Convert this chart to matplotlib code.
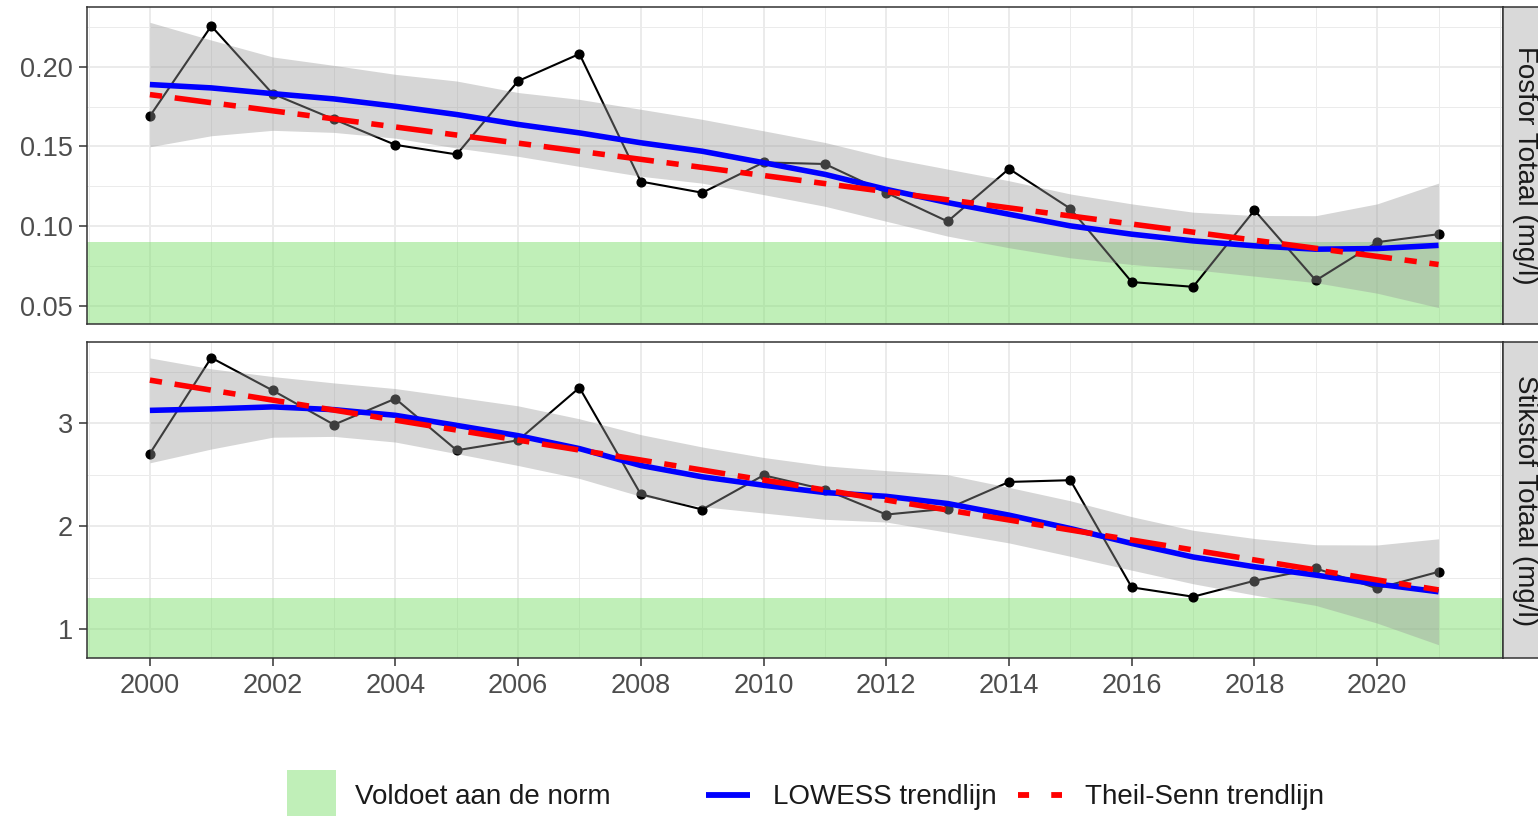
import matplotlib
matplotlib.use("Agg")
import matplotlib.pyplot as plt
from matplotlib.patches import Rectangle
from matplotlib.lines import Line2D

plt.rcParams["font.family"] = ["Liberation Sans", "DejaVu Sans"]

# ---- data -------------------------------------------------------------
years = list(range(2000, 2022))
x_ticks = list(range(2000, 2021, 2))
x_minor = [1999, 2001, 2003, 2005, 2007, 2009, 2011, 2013, 2015, 2017, 2019, 2021, 2022]

# Total phosphorus (mg/l)
fosfor = [0.169, 0.2255, 0.183, 0.167, 0.151, 0.145, 0.191, 0.208, 0.128, 0.121, 0.140,
          0.139, 0.121, 0.103, 0.136, 0.111, 0.065, 0.062, 0.110, 0.066, 0.090, 0.095]
fosfor_lowess = [0.1888, 0.1867, 0.1831, 0.1798, 0.1752, 0.1700, 0.1638, 0.1585, 0.1523,
                 0.1470, 0.1398, 0.1325, 0.1231, 0.1148, 0.1075, 0.1002, 0.0950, 0.0908,
                 0.0877, 0.0856, 0.0860, 0.0880]
fosfor_lo = [0.1498, 0.1567, 0.1601, 0.1588, 0.1552, 0.1490, 0.1438, 0.1375, 0.1313, 0.1270,
             0.1198, 0.1125, 0.1031, 0.0938, 0.0865, 0.0802, 0.0760, 0.0728, 0.0687, 0.0646,
             0.0580, 0.0490]
fosfor_hi = [0.2278, 0.2167, 0.2061, 0.2008, 0.1952, 0.1910, 0.1838, 0.1795, 0.1733, 0.1670,
             0.1598, 0.1525, 0.1431, 0.1358, 0.1285, 0.1202, 0.1140, 0.1088, 0.1067, 0.1066,
             0.1140, 0.1270]
fosfor_theil_sen = [0.1825, 0.0760]   # fitted values in 2000 and 2021
fosfor_norm = 0.09
fosfor_ticks = [0.05, 0.10, 0.15, 0.20]
fosfor_minor = [0.075, 0.125, 0.175, 0.225]
fosfor_ylim = (0.0387, 0.2376)

# Total nitrogen (mg/l)
stikstof = [2.706, 3.638, 3.320, 2.987, 3.240, 2.738, 2.835, 3.347, 2.310, 2.162, 2.495,
            2.356, 2.113, 2.170, 2.430, 2.447, 1.405, 1.314, 1.469, 1.589, 1.395, 1.556]
stikstof_lowess = [3.126, 3.140, 3.160, 3.133, 3.078, 2.980, 2.880, 2.754, 2.590, 2.480,
                   2.398, 2.327, 2.290, 2.220, 2.107, 1.977, 1.832, 1.700, 1.605, 1.524,
                   1.437, 1.362]
stikstof_lo = [2.616, 2.750, 2.865, 2.873, 2.818, 2.705, 2.590, 2.464, 2.290, 2.190, 2.128,
               2.067, 2.040, 1.940, 1.837, 1.707, 1.572, 1.440, 1.330, 1.229, 1.057, 0.847]
stikstof_hi = [3.636, 3.530, 3.455, 3.393, 3.338, 3.255, 3.170, 3.044, 2.890, 2.770, 2.668,
               2.587, 2.540, 2.500, 2.377, 2.247, 2.092, 1.960, 1.880, 1.819, 1.817, 1.877]
stikstof_theil_sen = [3.42, 1.38]
stikstof_norm = 1.3
stikstof_ticks = [1, 2, 3]
stikstof_minor = [1.5, 2.5, 3.5]
stikstof_ylim = (0.715, 3.788)

panel_titles = ["Fosfor Totaal (mg/l)", "Stikstof Totaal (mg/l)"]
legend_labels = ["Voldoet aan de norm", "LOWESS trendlijn", "Theil-Senn trendlijn"]

# ---- style ------------------------------------------------------------
W, H = 1538, 816
GREEN = "#83e173"
GRID = "#EBEBEB"
DARK = "#333333"
TICKTXT = "#4D4D4D"
FS = 19.5
TS_DASH = (0, (2.2, 2.3, 6.6, 2.3))
XLIM = (1998.98, 2022.05)

fig = plt.figure(figsize=(W / 100, H / 100), dpi=100)


def fx(px):
    return px / W


def fy(px):
    return 1 - px / H


panels = [
    dict(vals=fosfor, low=fosfor_lowess, lo=fosfor_lo, hi=fosfor_hi, ts=fosfor_theil_sen,
         norm=fosfor_norm, ticks=fosfor_ticks, minor=fosfor_minor, ylim=fosfor_ylim,
         fmt="{:.2f}", top=6.7, bottom=324.0),
    dict(vals=stikstof, low=stikstof_lowess, lo=stikstof_lo, hi=stikstof_hi, ts=stikstof_theil_sen,
         norm=stikstof_norm, ticks=stikstof_ticks, minor=stikstof_minor, ylim=stikstof_ylim,
         fmt="{:d}", top=342.3, bottom=658.3),
]

left_px, right_px = 87.3, 1503.0

for i, p in enumerate(panels):
    ax = fig.add_axes([fx(left_px), fy(p["bottom"]), fx(right_px - left_px),
                       (p["bottom"] - p["top"]) / H])
    ax.set_xlim(*XLIM)
    ax.set_ylim(*p["ylim"])

    # grid (theme_bw look)
    ax.set_xticks(x_ticks)
    ax.set_xticks(x_minor, minor=True)
    ax.set_yticks(p["ticks"])
    ax.set_yticks(p["minor"], minor=True)
    ax.grid(which="major", color=GRID, lw=1.4, zorder=0)
    ax.grid(which="minor", color=GRID, lw=0.7, zorder=0)
    ax.set_axisbelow(True)

    # area that meets the standard
    ax.axhspan(p["ylim"][0] - 1, p["norm"], color=GREEN, alpha=0.5, lw=0, zorder=1)

    # measurements
    ax.plot(years, p["vals"], color="black", lw=1.5, zorder=2)
    ax.plot(years, p["vals"], "o", color="black", ms=6.3, zorder=2)

    # LOWESS with confidence band
    ax.fill_between(years, p["lo"], p["hi"], color="#999999", alpha=0.4, lw=0, zorder=3)
    ax.plot(years, p["low"], color="#0000FF", lw=4.0, solid_capstyle="butt", zorder=4)

    # Theil-Sen trend
    ax.plot([years[0], years[-1]], p["ts"], color="#FF0000", lw=4.0, ls=TS_DASH,
            dash_capstyle="butt", zorder=5)

    for s in ax.spines.values():
        s.set_color(DARK)
        s.set_linewidth(1.1)
        s.set_zorder(6)

    ax.set_yticklabels([p["fmt"].format(t) for t in p["ticks"]])
    ax.tick_params(which="major", length=6, width=1.1, color=DARK, labelcolor=TICKTXT,
                   labelsize=FS, pad=4.5)
    ax.tick_params(which="minor", length=0)
    if i == 0:
        ax.tick_params(axis="x", which="both", length=0, labelbottom=False)
    else:
        ax.set_xticklabels([str(t) for t in x_ticks])

    # facet strip on the right
    sax = fig.add_axes([fx(right_px), fy(p["bottom"]), fx(45), (p["bottom"] - p["top"]) / H])
    sax.set_xticks([])
    sax.set_yticks([])
    sax.set_facecolor("#D9D9D9")
    for s in sax.spines.values():
        s.set_color(DARK)
        s.set_linewidth(1.1)
    sax.text(0.5, 0.5, panel_titles[i], rotation=270, ha="center", va="center",
             rotation_mode="anchor", fontsize=20, color="#1A1A1A", transform=sax.transAxes)

# ---- legend -----------------------------------------------------------
lax = fig.add_axes([0, 0, 1, 80 / H])
lax.set_xlim(0, W)
lax.set_ylim(0, 80)
lax.axis("off")
lax.add_patch(Rectangle((286.5, -5), 49.8, 51, color=GREEN, alpha=0.5, lw=0))
lax.add_line(Line2D([706, 749.5], [21, 21], color="#0000FF", lw=4.2, solid_capstyle="butt"))
lax.add_line(Line2D([1018, 1062], [21, 21], color="#FF0000", lw=4.2,
                    ls=(0, (1.9, 3.8)), dash_capstyle="butt"))
for xpos, lab in zip([355, 772.6, 1085], legend_labels):
    lax.text(xpos, 12, lab, ha="left", va="baseline", fontsize=20, color="#1A1A1A")

fig.savefig("out.png", dpi=100)
